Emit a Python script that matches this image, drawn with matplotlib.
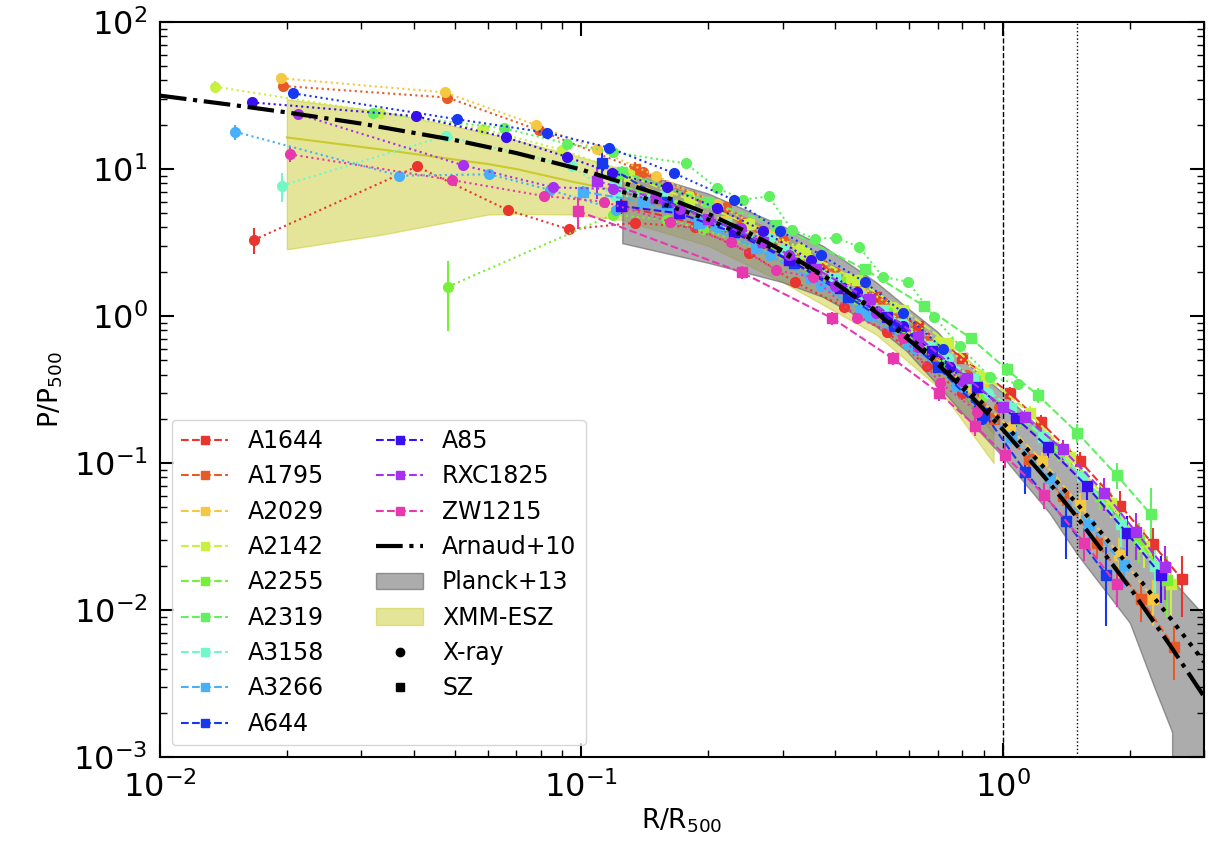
import matplotlib
matplotlib.use("Agg")
import matplotlib.pyplot as plt
from matplotlib.lines import Line2D
from matplotlib.patches import Patch
import numpy as np

# ---- cluster names and colours ----
CLUSTERS = ["A1644", "A1795", "A2029", "A2142", "A2255", "A2319",
            "A3158", "A3266", "A644", "A85", "RXC1825", "ZW1215"]
COLORS = ["#e8352f", "#e85a25", "#f5c842", "#c8f040", "#78f038", "#60f060",
          "#70f8c8", "#48b0f8", "#1838f0", "#3810f0", "#a830f0", "#e838b0"]

# ---- X-ray profiles (R/R500, P/P500, fractional error) ----
XR_R_A1644 = [0.0167, 0.0407, 0.0668, 0.0934, 0.134, 0.186, 0.25, 0.321, 0.42, 0.53, 0.66, 0.80]
XR_P_A1644 = [3.29, 10.4, 5.26, 3.89, 4.3, 4.0, 2.7, 1.70, 1.15, 0.78, 0.457, 0.30]
XR_E_A1644 = [0.2, 0.05, 0.04, 0.04, 0.04, 0.05, 0.05, 0.06, 0.06, 0.07, 0.08, 0.1]

XR_R_A1795 = [0.0196, 0.0481, 0.0792, 0.14, 0.22, 0.30, 0.40, 0.52, 0.66, 0.82, 0.98]
XR_P_A1795 = [36.7, 30.6, 18.4, 9.6, 5.5, 3.3, 2.0, 1.25, 0.68, 0.40, 0.24]
XR_E_A1795 = [0.08, 0.04, 0.04, 0.04, 0.04, 0.04, 0.05, 0.05, 0.06, 0.07, 0.08]

XR_R_A2029 = [0.0194, 0.0474, 0.078, 0.109, 0.15, 0.21, 0.28, 0.36, 0.46, 0.58, 0.72, 0.90]
XR_P_A2029 = [41.4, 33.2, 19.9, 13.6, 9.0, 5.8, 3.6, 2.3, 1.45, 0.9, 0.55, 0.32]
XR_E_A2029 = [0.08, 0.04, 0.04, 0.04, 0.04, 0.04, 0.05, 0.05, 0.06, 0.06, 0.07, 0.08]

XR_R_A2142 = [0.0135, 0.0333, 0.0584, 0.09, 0.13, 0.18, 0.25, 0.33, 0.43, 0.55, 0.7, 0.88]
XR_P_A2142 = [36.3, 24.2, 18.7, 13.5, 9.2, 6.5, 4.3, 2.9, 1.8, 1.15, 0.68, 0.40]
XR_E_A2142 = [0.1, 0.04, 0.04, 0.04, 0.04, 0.04, 0.05, 0.05, 0.06, 0.06, 0.07, 0.08]

XR_R_A2255 = [0.0482, 0.119, 0.16, 0.194, 0.26, 0.35, 0.45, 0.57, 0.72, 0.9]
XR_P_A2255 = [1.58, 4.9, 4.5, 3.9, 2.9, 2.0, 1.3, 0.8, 0.47, 0.29]
XR_E_A2255 = [0.5, 0.08, 0.06, 0.05, 0.05, 0.05, 0.06, 0.06, 0.07, 0.08]

XR_R_A2319 = [0.032, 0.0654, 0.0925, 0.119, 0.177, 0.21, 0.242, 0.278, 0.316, 0.358,
              0.402, 0.456, 0.518, 0.596, 0.686, 0.79, 0.93, 1.087]
XR_P_A2319 = [24.2, 18.9, 14.9, 13.0, 10.9, 7.4, 6.2, 6.5, 3.85, 3.36,
              3.4, 2.96, 1.85, 1.71, 0.99, 0.625, 0.387, 0.344]
XR_E_A2319 = [0.04] * 18

XR_R_A3158 = [0.0195, 0.0476, 0.095, 0.12, 0.156, 0.217, 0.28, 0.36, 0.46, 0.58, 0.74, 0.92]
XR_P_A3158 = [7.7, 16.8, 10.4, 6.5, 6.65, 4.16, 3.4, 2.2, 1.4, 0.9, 0.52, 0.3]
XR_E_A3158 = [0.22, 0.05, 0.04, 0.04, 0.04, 0.04, 0.05, 0.05, 0.06, 0.06, 0.07, 0.08]

XR_R_A3266 = [0.0151, 0.037, 0.0605, 0.0842, 0.121, 0.16, 0.21, 0.28, 0.37, 0.48, 0.62, 0.8]
XR_P_A3266 = [17.9, 9.0, 9.2, 7.2, 5.3, 5.4, 4.0, 2.6, 1.6, 1.0, 0.6, 0.33]
XR_E_A3266 = [0.12, 0.05, 0.04, 0.04, 0.04, 0.04, 0.05, 0.05, 0.06, 0.06, 0.07, 0.08]

XR_R_A644 = [0.0207, 0.0506, 0.0827, 0.116, 0.166, 0.23, 0.296, 0.37, 0.47, 0.58, 0.72, 0.89]
XR_P_A644 = [32.7, 21.8, 17.7, 14.0, 9.35, 6.15, 3.8, 2.6, 1.7, 1.05, 0.6, 0.2]
XR_E_A644 = [0.08, 0.04, 0.04, 0.04, 0.04, 0.04, 0.05, 0.05, 0.06, 0.06, 0.07, 0.1]

XR_R_A85 = [0.0165, 0.0404, 0.0662, 0.0922, 0.118, 0.16, 0.21, 0.27, 0.35, 0.45, 0.58, 0.75]
XR_P_A85 = [28.4, 22.9, 16.4, 12.1, 9.44, 7.5, 5.4, 3.8, 2.4, 1.45, 0.85, 0.45]
XR_E_A85 = [0.06, 0.04, 0.04, 0.04, 0.04, 0.04, 0.05, 0.05, 0.06, 0.06, 0.07, 0.08]

XR_R_RXC1825 = [0.0213, 0.0524, 0.0857, 0.119, 0.171, 0.239, 0.31, 0.40, 0.5, 0.63, 0.8]
XR_P_RXC1825 = [23.6, 10.6, 7.5, 7.3, 5.35, 3.99, 2.6, 1.6, 1.05, 0.62, 0.36]
XR_E_RXC1825 = [0.08, 0.05, 0.04, 0.04, 0.04, 0.04, 0.05, 0.05, 0.06, 0.07, 0.08]

XR_R_ZW1215 = [0.0203, 0.0494, 0.0814, 0.113, 0.162, 0.226, 0.29, 0.355, 0.45, 0.58, 0.71, 0.87]
XR_P_ZW1215 = [12.6, 8.4, 6.55, 6.0, 4.38, 3.17, 2.05, 1.83, 0.975, 0.712, 0.351, 0.223]
XR_E_ZW1215 = [0.12, 0.05, 0.04, 0.04, 0.04, 0.05, 0.05, 0.06, 0.06, 0.07, 0.08, 0.1]

# ---- SZ profiles (R/R500, P/P500, fractional error) ----
SZ_R_A1644 = [0.125, 0.19, 0.27, 0.37, 0.5, 0.63, 0.8, 1.04, 1.23, 1.52, 1.90, 2.27, 2.66]
SZ_P_A1644 = [5.6, 4.2, 3.2, 2.2, 1.35, 0.85, 0.52, 0.298, 0.189, 0.104, 0.0513, 0.028, 0.0162]
SZ_E_A1644 = [0.1, 0.08, 0.06, 0.06, 0.06, 0.07, 0.08, 0.1, 0.12, 0.15, 0.25, 0.3, 0.45]

SZ_R_A1795 = [0.134, 0.18, 0.24, 0.32, 0.42, 0.55, 0.70, 0.85, 0.95, 1.15, 1.39, 1.67, 2.13, 2.55]
SZ_P_A1795 = [10.0, 6.6, 4.3, 2.6, 1.65, 0.95, 0.52, 0.33, 0.2, 0.106, 0.0597, 0.0284, 0.0118, 0.00557]
SZ_E_A1795 = [0.12, 0.08, 0.06, 0.06, 0.06, 0.07, 0.08, 0.1, 0.1, 0.12, 0.15, 0.2, 0.3, 0.4]

SZ_R_A2029 = [0.12, 0.16, 0.22, 0.30, 0.40, 0.52, 0.65, 0.82, 1.04, 1.24, 1.52, 1.89, 2.27]
SZ_P_A2029 = [9.0, 6.5, 4.4, 2.9, 1.8, 1.1, 0.62, 0.33, 0.172, 0.104, 0.0518, 0.0237, 0.0119]
SZ_E_A2029 = [0.1, 0.08, 0.06, 0.06, 0.06, 0.07, 0.08, 0.1, 0.12, 0.15, 0.2, 0.3, 0.35]

SZ_R_A2142 = [0.13, 0.18, 0.25, 0.34, 0.45, 0.58, 0.74, 0.92, 1.16, 1.44, 1.80, 2.16, 2.50]
SZ_P_A2142 = [9.0, 6.2, 4.2, 2.7, 1.75, 1.1, 0.66, 0.38, 0.218, 0.110, 0.0532, 0.0274, 0.0150]
SZ_E_A2142 = [0.1, 0.08, 0.06, 0.06, 0.06, 0.07, 0.08, 0.1, 0.12, 0.15, 0.2, 0.3, 0.4]

SZ_R_A2255 = [0.12, 0.17, 0.23, 0.31, 0.41, 0.53, 0.68, 0.86, 1.1, 1.35, 1.7, 2.1, 2.45]
SZ_P_A2255 = [8.0, 5.6, 3.9, 2.6, 1.7, 1.05, 0.62, 0.36, 0.2, 0.12, 0.06, 0.03, 0.016]
SZ_E_A2255 = [0.1, 0.08, 0.06, 0.06, 0.06, 0.07, 0.08, 0.1, 0.12, 0.15, 0.2, 0.3, 0.45]

SZ_R_A2319 = [0.125, 0.2, 0.29, 0.47, 0.65, 0.84, 1.02, 1.21, 1.5, 1.86, 2.24]
SZ_P_A2319 = [9.5, 6.0, 4.16, 2.08, 1.17, 0.705, 0.434, 0.29, 0.161, 0.083, 0.045]
SZ_E_A2319 = [0.1, 0.08, 0.06, 0.06, 0.07, 0.08, 0.1, 0.12, 0.15, 0.2, 0.5]

SZ_R_A3158 = [0.12, 0.16, 0.22, 0.30, 0.40, 0.52, 0.67, 0.85, 1.047, 1.245, 1.54, 1.91, 2.30]
SZ_P_A3158 = [7.5, 6.0, 4.2, 2.8, 1.8, 1.1, 0.63, 0.37, 0.236, 0.151, 0.0817, 0.0385, 0.020]
SZ_E_A3158 = [0.1, 0.08, 0.06, 0.06, 0.06, 0.07, 0.08, 0.1, 0.12, 0.15, 0.2, 0.3, 0.35]

SZ_R_A3266 = [0.101, 0.14, 0.19, 0.26, 0.35, 0.46, 0.6, 0.78, 1.047, 1.29, 1.60, 1.94]
SZ_P_A3266 = [7.0, 6.0, 4.3, 2.9, 1.8, 1.1, 0.65, 0.34, 0.151, 0.0787, 0.0379, 0.0202]
SZ_E_A3266 = [0.1, 0.08, 0.06, 0.06, 0.06, 0.07, 0.08, 0.1, 0.12, 0.15, 0.2, 0.3]

SZ_R_A644 = [0.112, 0.16, 0.23, 0.32, 0.43, 0.55, 0.70, 0.9, 1.13, 1.41, 1.76]
SZ_P_A644 = [11.0, 6.0, 3.9, 2.3, 1.35, 0.85, 0.45, 0.22, 0.0873, 0.0403, 0.0173]
SZ_E_A644 = [0.2, 0.08, 0.06, 0.06, 0.06, 0.07, 0.08, 0.15, 0.3, 0.45, 0.55]

SZ_R_A85 = [0.124, 0.17, 0.23, 0.31, 0.41, 0.53, 0.68, 0.87, 1.076, 1.28, 1.58, 1.97, 2.37]
SZ_P_A85 = [5.6, 5.0, 3.7, 2.4, 1.55, 0.98, 0.58, 0.33, 0.201, 0.128, 0.0698, 0.0333, 0.0173]
SZ_E_A85 = [0.12, 0.08, 0.06, 0.06, 0.06, 0.07, 0.08, 0.1, 0.12, 0.15, 0.2, 0.3, 0.35]

SZ_R_RXC1825 = [0.109, 0.15, 0.2, 0.27, 0.36, 0.48, 0.63, 0.82, 1.0, 1.128, 1.387, 1.74, 2.07, 2.42]
SZ_P_RXC1825 = [8.3, 6.3, 4.6, 3.2, 2.1, 1.3, 0.72, 0.38, 0.24, 0.205, 0.124, 0.063, 0.0338, 0.0195]
SZ_E_RXC1825 = [0.25, 0.08, 0.06, 0.06, 0.06, 0.07, 0.08, 0.1, 0.1, 0.12, 0.15, 0.25, 0.35, 0.4]

SZ_R_ZW1215 = [0.098, 0.24, 0.394, 0.547, 0.704, 0.86, 1.01, 1.25, 1.56, 1.86]
SZ_P_ZW1215 = [5.18, 1.98, 0.964, 0.515, 0.301, 0.179, 0.113, 0.061, 0.0287, 0.0150]
SZ_E_ZW1215 = [0.25, 0.1, 0.1, 0.1, 0.12, 0.15, 0.18, 0.2, 0.25, 0.3]

# ---- reference models ----
ARNAUD_R = [0.01, 0.015, 0.02, 0.03, 0.05, 0.07, 0.1, 0.15, 0.2, 0.25, 0.3, 0.4,
            0.5, 0.7, 0.85, 1.0, 1.25, 1.5, 2.0, 2.5, 3.0]
ARNAUD_P = [31.55, 27.17, 24.26, 20.37, 15.74, 12.84, 9.906, 6.849, 4.948, 3.675, 2.788, 1.679,
            1.0605, 0.4708, 0.2750, 0.1687, 0.0813, 0.04267, 0.01421, 0.005674, 0.00258]

PLANCK_R = [0.125, 0.15, 0.2, 0.3, 0.4, 0.5, 0.7, 1.0, 1.5, 2.0, 2.5, 3.0]
PLANCK_P = [7.00, 6.021, 4.534, 2.696, 1.679, 1.086, 0.4997, 0.1886, 0.05275, 0.0196, 0.008746, 0.00444]

PLANCK_BAND_R = [0.125, 0.2, 0.3, 0.374, 0.5, 0.59, 0.7, 0.79, 1.0, 1.29, 1.5, 2.0, 2.3, 2.52, 2.5201, 3.0]
PLANCK_BAND_LO = [3.13, 2.3, 1.7, 1.35, 0.85, 0.58, 0.34, 0.229, 0.11, 0.0457, 0.024, 0.0082, 0.00286, 0.00148, 1e-4, 1e-4]
PLANCK_BAND_HI = [10.2, 6.8, 4.1, 3.0, 1.7, 1.15, 0.78, 0.52, 0.30, 0.15, 0.088, 0.035, 0.022, 0.016, 0.016, 0.0092]

XMM_R = [0.02, 0.034, 0.06, 0.07, 0.095, 0.125, 0.2, 0.3, 0.5, 0.7, 0.95]
XMM_HI = [29.8, 24.5, 17.5, 15.7, 12.5, 10.0, 6.0, 3.6, 1.45, 0.6, 0.22]
XMM_LO = [2.84, 3.6, 4.9, 4.95, 4.9, 4.5, 3.0, 1.7, 0.75, 0.33, 0.10]
XMM_MED = [16.4, 13.5, 10.8, 10.0, 8.2, 7.0, 4.3, 2.6, 1.1, 0.47, 0.16]

R500_LINE = 1.0
R200_LINE = 1.5

g = globals()
XRAY = {c: (g["XR_R_" + c], g["XR_P_" + c], g["XR_E_" + c]) for c in CLUSTERS}
SZ = {c: (g["SZ_R_" + c], g["SZ_P_" + c], g["SZ_E_" + c]) for c in CLUSTERS}

fig = plt.figure(figsize=(12.22, 8.42), dpi=100)
ax = fig.add_axes([0.1309, 0.1009, 0.8544, 0.8730])

# bands
ax.fill_between(XMM_R, XMM_LO, XMM_HI, facecolor="y", alpha=0.4,
                edgecolor="y", linewidth=1, zorder=1)
ax.plot(XMM_R, XMM_MED, color="y", alpha=0.7, lw=1.5, zorder=1)
ax.fill_between(PLANCK_BAND_R, PLANCK_BAND_LO, PLANCK_BAND_HI, facecolor="gray",
                alpha=0.65, edgecolor="dimgray", linewidth=1, zorder=1)

# data
for c, col in zip(CLUSTERS, COLORS):
    r, p, e = XRAY[c]
    p = np.array(p)
    ax.errorbar(r, p, yerr=p * np.array(e), color=col, ls=":", lw=1.5,
                marker="o", ms=7, elinewidth=1.5, capsize=0, zorder=3)
    r, p, e = SZ[c]
    p = np.array(p)
    ax.errorbar(r, p, yerr=p * np.array(e), color=col, ls="--", lw=1.5,
                marker="s", ms=7, elinewidth=1.5, capsize=0, zorder=3)

ax.plot(ARNAUD_R, ARNAUD_P, color="k", ls="-.", lw=3, zorder=4)
ax.plot(PLANCK_R, PLANCK_P, color="k", ls=":", lw=3, zorder=4)

ax.axvline(R500_LINE, color="k", ls="--", lw=1, zorder=2)
ax.axvline(R200_LINE, color="k", ls=":", lw=1, zorder=2)

ax.set_xscale("log")
ax.set_yscale("log")
ax.set_xlim(0.01, 3.0)
ax.set_ylim(1e-3, 1e2)
ax.set_xlabel(r"R/R$_{500}$", fontsize=19, labelpad=2)
ax.set_ylabel(r"P/P$_{500}$", fontsize=19, labelpad=6)
ax.tick_params(which="both", direction="in", top=True, right=True)
ax.tick_params(which="major", length=10, width=1.5, labelsize=23)
ax.tick_params(axis="x", which="major", pad=10)
ax.tick_params(axis="y", which="major", pad=9)
ax.tick_params(which="minor", length=5, width=1)
for s in ax.spines.values():
    s.set_linewidth(1.5)

handles = []
labels = []
for c, col in zip(CLUSTERS, COLORS):
    handles.append(Line2D([], [], color=col, ls="--", lw=1.5, marker="s", ms=6))
    labels.append(c)
handles += [Line2D([], [], color="k", ls="-.", lw=3),
            Patch(facecolor="gray", alpha=0.65, edgecolor="dimgray"),
            Patch(facecolor="y", alpha=0.4, edgecolor="y"),
            Line2D([], [], color="k", ls="none", marker="o", ms=6),
            Line2D([], [], color="k", ls="none", marker="s", ms=6)]
labels += ["Arnaud+10", "Planck+13", "XMM-ESZ", "X-ray", "SZ"]
ax.legend(handles, labels, ncol=2, loc="lower left", fontsize=17,
          labelspacing=0.48, columnspacing=2.2, handlelength=2.0)

fig.savefig("out.png", dpi=100)
